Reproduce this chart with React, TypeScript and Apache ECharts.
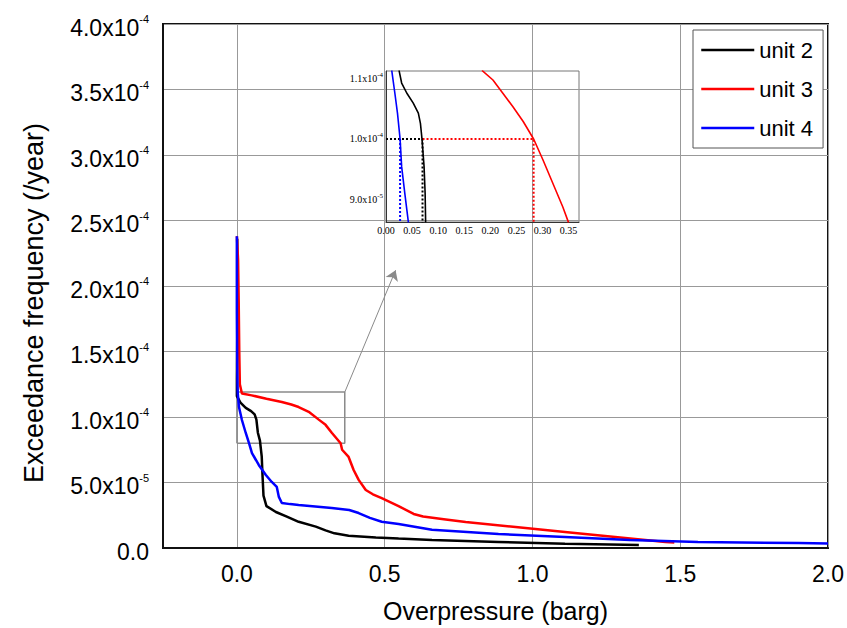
import React, { useEffect, useRef } from 'react';
import * as echarts from 'echarts';

// ---------- data (y values in units of 1e-4 /year) ----------
const legendNames = ['unit 2', 'unit 3', 'unit 4'];
const seriesColors = ['#000000', '#ff0000', '#0000ff'];

const unit2: number[][] = [
  [0.001, 2.36], [0.001, 1.6], [0.0, 1.3], [0.0, 1.16], [0.012, 1.11], [0.03, 1.07],
  [0.048, 1.045], [0.06, 1.02], [0.066, 0.98], [0.071, 0.88], [0.078, 0.82], [0.084, 0.7],
  [0.087, 0.54], [0.09, 0.4], [0.1, 0.32], [0.132, 0.275], [0.169, 0.24], [0.209, 0.2],
  [0.267, 0.163], [0.3, 0.135], [0.33, 0.112], [0.378, 0.094], [0.47, 0.08], [0.547, 0.072],
  [0.66, 0.061], [0.885, 0.046], [1.11, 0.032], [1.31, 0.024], [1.36, 0.022],
];

const unit3: number[][] = [
  [0.0, 2.38], [0.004, 2.2], [0.006, 1.9], [0.008, 1.5], [0.01, 1.25], [0.017, 1.18],
  [0.05, 1.165], [0.1, 1.14], [0.152, 1.115], [0.184, 1.095], [0.209, 1.076], [0.243, 1.04],
  [0.277, 0.98], [0.3, 0.94], [0.321, 0.88], [0.351, 0.8], [0.356, 0.75], [0.378, 0.695],
  [0.395, 0.595], [0.412, 0.52], [0.436, 0.443], [0.46, 0.41], [0.49, 0.38], [0.547, 0.32],
  [0.598, 0.26], [0.63, 0.24], [0.7, 0.22], [0.774, 0.198], [0.943, 0.16], [1.11, 0.122],
  [1.28, 0.084], [1.45, 0.046], [1.48, 0.042],
];

const unit4: number[][] = [
  [0.0, 2.38], [0.0, 1.8], [0.001, 1.4], [0.002, 1.25], [0.003, 1.18], [0.007, 1.076],
  [0.017, 0.977], [0.03, 0.878], [0.041, 0.8], [0.051, 0.725], [0.074, 0.634], [0.098, 0.557],
  [0.118, 0.504], [0.135, 0.466], [0.142, 0.39], [0.152, 0.344], [0.18, 0.335], [0.209, 0.328],
  [0.321, 0.305], [0.38, 0.29], [0.412, 0.267], [0.45, 0.23], [0.49, 0.2], [0.547, 0.183],
  [0.66, 0.14], [0.885, 0.107], [1.11, 0.084], [1.33, 0.061], [1.56, 0.046], [1.9, 0.038],
  [2.0, 0.035],
];

// zoomed inset curves
const insetUnit2: number[][] = [
  [0.025, 1.114], [0.03, 1.093], [0.04, 1.076], [0.052, 1.06], [0.062, 1.043], [0.066, 1.026],
  [0.069, 1.0], [0.073, 0.954], [0.075, 0.91], [0.076, 0.861],
];
const insetUnit3: number[][] = [
  [0.184, 1.114], [0.205, 1.098], [0.224, 1.076], [0.243, 1.054], [0.263, 1.029], [0.283, 1.0],
  [0.301, 0.965], [0.32, 0.926], [0.339, 0.887], [0.35, 0.861],
];
const insetUnit4: number[][] = [
  [0.011, 1.114], [0.017, 1.076], [0.022, 1.043], [0.027, 1.0], [0.03, 0.954], [0.036, 0.91],
  [0.043, 0.861],
];
// read-off guide lines in the inset (at 1.0e-4)
const guideUnit2: number[][] = [[0, 1.0], [0.07, 1.0], [0.07, 0.85]];
const guideUnit3: number[][] = [[0.07, 1.0], [0.283, 1.0], [0.283, 0.85]];
const guideUnit4: number[][] = [[0.027, 1.0], [0.027, 0.85]];

// zoom box in the main chart and its arrow
const zoomBox: number[][] = [[0, 0.8], [0.365, 0.8], [0.365, 1.19], [0, 1.19], [0, 0.8]];
const arrowFrom = [0.365, 1.19];
const arrowTo = [0.537, 2.12];

const SANS = 'Liberation Sans, Arial, sans-serif';
const SERIF = 'Liberation Serif, Times New Roman, serif';

function sciLabel(v: number): string {
  if (Math.abs(v) < 1e-9) return '{m|0.0}';
  let mant = v;
  let exp = -4;
  if (v < 0.9999) {
    mant = v * 10;
    exp = -5;
  }
  return `{m|${mant.toFixed(1)}x10}{s|${exp}}`;
}

export default function App() {
  const ref = useRef<HTMLDivElement>(null);
  useEffect(() => {
    if (!ref.current) return;
    const chart = echarts.init(ref.current, undefined, { renderer: 'svg' });
    const mainData = [unit2, unit3, unit4];
    const insetData = [insetUnit2, insetUnit3, insetUnit4];
    const guides = [guideUnit2, guideUnit3, guideUnit4];

    const series: any[] = [];
    mainData.forEach((d, i) => {
      series.push({
        name: legendNames[i],
        type: 'line',
        xAxisIndex: 0,
        yAxisIndex: 0,
        data: d,
        symbol: 'none',
        showSymbol: false,
        lineStyle: { color: seriesColors[i], width: 2.5 },
        itemStyle: { color: seriesColors[i] },
        z: 3,
      });
    });
    series.push({
      type: 'line',
      xAxisIndex: 0,
      yAxisIndex: 0,
      data: zoomBox,
      symbol: 'none',
      silent: true,
      lineStyle: { color: '#8a8a8a', width: 1.5 },
      z: 2,
      markLine: {
        silent: true,
        symbol: ['none', 'arrow'],
        symbolSize: 10,
        label: { show: false },
        lineStyle: { color: '#8a8a8a', width: 1, type: 'solid' },
        data: [[{ coord: arrowFrom }, { coord: arrowTo }]],
      },
    });
    guides.forEach((d, i) => {
      series.push({
        type: 'line',
        xAxisIndex: 1,
        yAxisIndex: 1,
        data: d,
        symbol: 'none',
        silent: true,
        lineStyle: { color: seriesColors[i], width: 2, type: [2, 2] },
        z: 3,
      });
    });
    insetData.forEach((d, i) => {
      series.push({
        type: 'line',
        xAxisIndex: 1,
        yAxisIndex: 1,
        data: d,
        symbol: 'none',
        silent: true,
        lineStyle: { color: seriesColors[i], width: 1.6 },
        z: 4,
      });
    });

    chart.setOption({
      animation: false,
      backgroundColor: '#ffffff',
      legend: {
        data: legendNames,
        orient: 'vertical',
        left: 693,
        top: 30,
        padding: [9, 10, 9, 7],
        itemGap: 17,
        itemWidth: 53,
        itemHeight: 14,
        borderColor: '#555',
        borderWidth: 1,
        backgroundColor: '#fff',
        itemStyle: { opacity: 0 },
        lineStyle: { width: 2.5 },
        textStyle: { fontSize: 22, fontFamily: SANS, color: '#000' },
      },
      grid: [
        {
          left: 163, top: 24, right: 15, bottom: 80,
          show: true, borderColor: '#111', borderWidth: 2, backgroundColor: 'transparent',
        },
        {
          left: 386, top: 71, width: 193, height: 151,
          show: true, borderColor: '#777', borderWidth: 1, backgroundColor: 'transparent',
        },
      ],
      xAxis: [
        {
          type: 'value', gridIndex: 0, min: -0.25, max: 2,
          name: 'Overpressure (barg)', nameLocation: 'middle', nameGap: 50,
          nameTextStyle: { fontSize: 25, fontFamily: SANS, color: '#000' },
          axisLine: { show: true, onZero: false, lineStyle: { color: '#111', width: 2 } },
          axisTick: { show: false },
          splitLine: { show: true, lineStyle: { color: '#999', width: 1 } },
          axisLabel: {
            fontSize: 23, fontFamily: SANS, color: '#000', margin: 14,
            formatter: (v: number) => (v < -0.01 ? '' : v.toFixed(1)),
          },
        },
        {
          type: 'value', gridIndex: 1, min: 0, max: 0.37, interval: 0.05,
          axisLine: { show: true, onZero: false, lineStyle: { color: '#333', width: 1 } },
          axisTick: { show: false },
          splitLine: { show: false },
          axisLabel: {
            fontSize: 10, fontFamily: SERIF, color: '#000', margin: 3,
            formatter: (v: number) => {
              const k = v / 0.05;
              return Math.abs(k - Math.round(k)) < 1e-6 ? v.toFixed(2) : '';
            },
          },
        },
      ],
      yAxis: [
        {
          type: 'value', gridIndex: 0, min: 0, max: 4, interval: 0.5,
          name: 'Exceedance frequency (/year)', nameLocation: 'middle', nameGap: 116,
          nameTextStyle: { fontSize: 27, fontFamily: SANS, color: '#000', padding: [0, 34, 0, 0] },
          axisLine: { show: true, onZero: false, lineStyle: { color: '#111', width: 2 } },
          axisTick: { show: false },
          splitLine: { show: true, lineStyle: { color: '#999', width: 1 } },
          axisLabel: {
            margin: 14,
            padding: [7, 0, 0, 0],
            formatter: sciLabel,
            rich: {
              m: { fontSize: 23, fontFamily: SANS, color: '#000', lineHeight: 28 },
              s: { fontSize: 11, fontFamily: SANS, color: '#000', verticalAlign: 'top', lineHeight: 12 },
            },
          },
        },
        {
          type: 'value', gridIndex: 1, min: 0.862, max: 1.113, splitNumber: 2,
          axisLine: { show: true, onZero: false, lineStyle: { color: '#333', width: 1 } },
          axisTick: { show: false },
          splitLine: { show: false },
          axisLabel: {
            margin: 3,
            formatter: (v: number) => {
              const k = v * 10;
              return Math.abs(k - Math.round(k)) < 1e-6 ? sciLabel(v) : '';
            },
            rich: {
              m: { fontSize: 10, fontFamily: SERIF, color: '#000', lineHeight: 14 },
              s: { fontSize: 7, fontFamily: SERIF, color: '#000', verticalAlign: 'top', lineHeight: 8 },
            },
          },
        },
      ],
      series,
    });
    return () => chart.dispose();
  }, []);
  return (
    <div
      ref={ref}
      style={{ position: 'absolute', left: 0, top: 0, width: 847, height: 628 }}
    />
  );
}
